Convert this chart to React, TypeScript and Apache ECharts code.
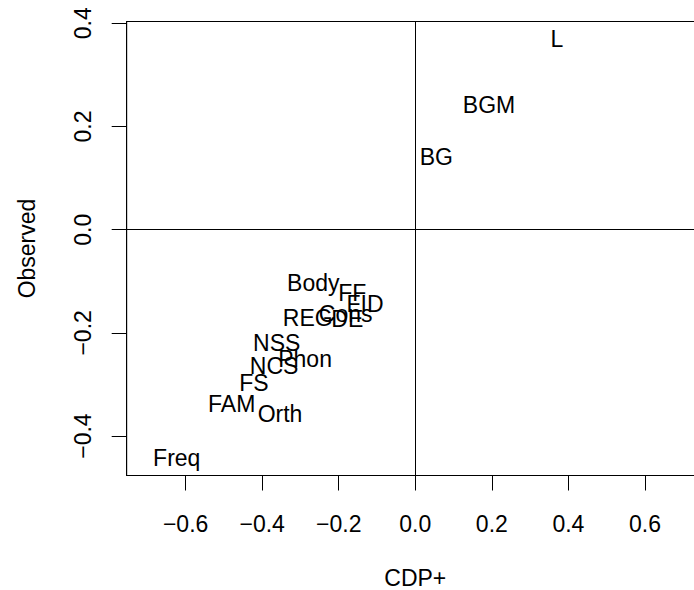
import React, { useEffect, useRef } from "react";
import * as echarts from "echarts";

const labels = ["L", "BGM", "BG", "Body", "FF", "FID", "Cons", "REG", "DE", "NSS", "Phon", "NCS", "FS", "FAM", "Orth", "Freq"];
const cdpValues = [0.370, 0.1925, 0.0549, -0.2665, -0.1646, -0.1314, -0.1818, -0.281, -0.1776, -0.362, -0.288, -0.369, -0.4214, -0.4796, -0.3534, -0.6233];
const observedValues = [0.370, 0.241, 0.141, -0.1039, -0.1233, -0.144, -0.1634, -0.1717, -0.174, -0.22, -0.2506, -0.2636, -0.2977, -0.3378, -0.3572, -0.4419];
const xTicks = [-0.6, -0.4, -0.2, 0.0, 0.2, 0.4, 0.6];
const yTicks = [-0.4, -0.2, 0.0, 0.2, 0.4];

const FONT = "'Liberation Sans', Arial, Helvetica, sans-serif";
const fmt = (v: number) => (v < -1e-9 ? "\u2212" : "") + Math.abs(v).toFixed(1);

export default function App() {
  const ref = useRef<HTMLDivElement>(null);
  useEffect(() => {
    if (!ref.current) return;
    const chart = echarts.init(ref.current, null, { renderer: "svg" });
    const data = labels.map((n, i) => ({ name: n, value: [cdpValues[i], observedValues[i]] }));
    chart.setOption({
      animation: false,
      backgroundColor: "#ffffff",
      textStyle: { fontFamily: FONT },
      grid: {
        left: 126.7,
        top: 21.5,
        width: 577.2,
        height: 454,
        show: true,
        borderColor: "#000",
        borderWidth: 1,
        backgroundColor: "transparent",
        containLabel: false,
        outerBoundsMode: "none",
      },
      xAxis: {
        type: "value",
        min: -0.754,
        max: 0.754,
        name: "CDP+",
        nameLocation: "middle",
        nameGap: 91,
        nameTextStyle: { fontFamily: FONT, fontSize: 23, color: "#000" },
        splitLine: { show: false },
        axisLine: { show: true, onZero: false, lineStyle: { color: "#000", width: 1 } },
        axisTick: { show: true, customValues: xTicks, length: 15, lineStyle: { color: "#000", width: 1 } },
        axisLabel: {
          customValues: xTicks,
          formatter: (v: number) => fmt(v),
          margin: 37,
          fontFamily: FONT,
          fontSize: 23,
          color: "#000",
        },
      },
      yAxis: {
        type: "value",
        min: -0.4764,
        max: 0.4035,
        name: "Observed",
        nameLocation: "middle",
        nameGap: 88,
        nameTextStyle: { fontFamily: FONT, fontSize: 23, color: "#000" },
        splitLine: { show: false },
        axisLine: { show: true, onZero: false, lineStyle: { color: "#000", width: 1 } },
        axisTick: { show: true, customValues: yTicks, length: 15, lineStyle: { color: "#000", width: 1 } },
        axisLabel: {
          customValues: yTicks,
          formatter: (v: number) => fmt(v),
          rotate: 90,
          margin: 32,
          fontFamily: FONT,
          fontSize: 23,
          color: "#000",
        },
      },
      series: [
        {
          type: "scatter",
          data,
          symbolSize: 1,
          itemStyle: { color: "rgba(0,0,0,0)", opacity: 1 },
          label: {
            show: true,
            position: "inside",
            formatter: (p: any) => p.name,
            fontFamily: FONT,
            fontSize: 23,
            color: "#000",
            opacity: 1,
            textBorderWidth: 0,
            align: "center",
            verticalAlign: "middle",
          },
          labelLayout: { hideOverlap: false },
          emphasis: { disabled: true },
          markLine: {
            silent: true,
            symbol: ["none", "none"],
            label: { show: false },
            lineStyle: { color: "#000", width: 1, type: "solid" },
            data: [{ xAxis: 0 }, { yAxis: 0 }],
          },
        },
      ],
    });
    return () => chart.dispose();
  }, []);
  return (
    <div style={{ position: "absolute", left: 0, top: 0, width: 694, height: 590, overflow: "hidden" }}>
      <div ref={ref} style={{ width: 720, height: 590 }} />
    </div>
  );
}
